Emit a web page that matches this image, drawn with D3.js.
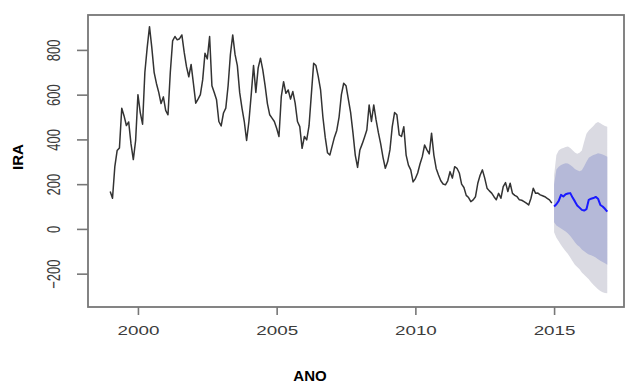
<!DOCTYPE html>
<html>
<head>
<meta charset="utf-8">
<script src="https://cdn.jsdelivr.net/npm/d3@7"></script>
<style>
    body { margin: 0; background: #fff; }
    svg { display: block; font-family: "Liberation Sans", Arial, sans-serif; }
</style>
</head>
<body>
<div id="chart"></div>
<script>
// Monthly IRA series, Jan 1999 .. Dec 2014 (one row per year)
const startYear = 1999;
const iraHistory = [
    167, 137, 278, 350, 362, 539, 505, 462, 478, 380, 310, 395,   // 1999
    600, 520, 468, 700, 810, 904, 810, 700, 650, 610, 560, 590,   // 2000
    530, 510, 700, 840, 860, 845, 850, 867, 790, 725, 680, 735,   // 2001
    650, 562, 580, 600, 666, 785, 760, 860, 640, 610, 577, 480,   // 2002
    460, 518, 540, 640, 780, 867, 780, 730, 610, 540, 480, 395,   // 2003
    480, 600, 730, 610, 720, 763, 711, 640, 560, 510, 495, 480,   // 2004
    450, 413, 591, 658, 606, 621, 580, 614, 562, 480, 457, 360,   // 2005
    413, 398, 460, 600, 740, 730, 681, 621, 500, 410, 340, 330,   // 2006
    370, 410, 440, 500, 600, 651, 640, 580, 520, 430, 330, 275,   // 2007
    353, 380, 410, 442, 554, 480, 554, 487, 430, 380, 320, 271,   // 2008
    300, 353, 457, 520, 510, 420, 413, 457, 330, 285, 264, 210,   // 2009
    225, 250, 290, 323, 375, 353, 335, 428, 330, 270, 241, 215,   // 2010
    201, 197, 215, 256, 227, 278, 271, 250, 200, 185, 150, 140,   // 2011
    122, 130, 144, 204, 240, 264, 227, 182, 170, 160, 144, 130,   // 2012
    159, 137, 189, 207, 167, 204, 159, 150, 144, 130, 128, 122,   // 2013
    115, 107, 137, 182, 159, 160, 152, 148, 144, 137, 130, 115    // 2014
];

// Forecast, Jan 2015 .. Dec 2016
const forecastStart = 2015;
const fcMean = [100, 110, 125, 152, 145, 155, 158, 160, 140, 123, 105, 95,
                85, 82, 88, 130, 135, 138, 143, 135, 107, 100, 90, 77];
const fcHi80 = [200, 265, 278, 286, 290, 294, 292, 286, 278, 268, 262, 258,
                262, 280, 300, 318, 325, 330, 334, 338, 336, 332, 328, 323];
const fcLo80 = [30, 15, 8, 2, -5, -12, -20, -32, -45, -60, -72, -80,
                -92, -100, -108, -114, -118, -122, -128, -136, -142, -148, -154, -160];
const fcHi95 = [240, 330, 350, 358, 362, 366, 368, 362, 352, 342, 336, 340,
                350, 390, 425, 440, 450, 460, 472, 478, 472, 465, 460, 457];
const fcLo95 = [-15, -40, -55, -72, -86, -100, -112, -128, -145, -160, -170, -180,
                -195, -205, -215, -225, -238, -250, -260, -270, -278, -283, -286, -288];

const yTicks = [-200, 0, 200, 400, 600, 800];
const xTicks = [2000, 2005, 2010, 2015];

const W = 625, H = 385;
const plot = { left: 88, right: 624, top: 15, bottom: 307 };

const svg = d3.select("#chart").append("svg")
    .attr("width", W)
    .attr("height", H);

const x = d3.scaleLinear().domain([1998.2, 2017.52]).range([plot.left, plot.right]);
const y = d3.scaleLinear().domain([-349, 956]).range([plot.bottom, plot.top]);

const history = iraHistory.map((v, i) => ({ t: startYear + i / 12, v: v }));
const forecast = fcMean.map((v, i) => ({
    t: forecastStart + i / 12,
    mean: v,
    lo80: fcLo80[i], hi80: fcHi80[i],
    lo95: fcLo95[i], hi95: fcHi95[i]
}));

// prediction bands (95 below, 80 on top)
svg.append("path")
    .datum(forecast)
    .attr("fill", "#dadae2")
    .attr("d", d3.area().x(d => x(d.t)).y0(d => y(d.lo95)).y1(d => y(d.hi95)));

svg.append("path")
    .datum(forecast)
    .attr("fill", "#b5b9d8")
    .attr("d", d3.area().x(d => x(d.t)).y0(d => y(d.lo80)).y1(d => y(d.hi80)));

// observed series
svg.append("path")
    .datum(history)
    .attr("fill", "none")
    .attr("stroke", "#333")
    .attr("stroke-width", 1.5)
    .attr("stroke-linejoin", "round")
    .attr("d", d3.line().x(d => x(d.t)).y(d => y(d.v)));

// point forecast
svg.append("path")
    .datum(forecast)
    .attr("fill", "none")
    .attr("stroke", "#1a1aff")
    .attr("stroke-width", 2)
    .attr("stroke-linejoin", "round")
    .attr("d", d3.line().x(d => x(d.t)).y(d => y(d.mean)));

// axes
const yAxisG = svg.append("g")
    .attr("transform", `translate(${plot.left},0)`)
    .call(d3.axisLeft(y).tickValues(yTicks).tickSize(11).tickFormat(d3.format("d")));

const xAxisG = svg.append("g")
    .attr("transform", `translate(0,${plot.bottom})`)
    .call(d3.axisBottom(x).tickValues(xTicks).tickSize(8).tickFormat(d3.format("d")));

[yAxisG, xAxisG].forEach(g => {
    g.select(".domain").remove();
    g.selectAll(".tick line").attr("stroke", "#777").attr("stroke-width", 1.6);
    g.selectAll(".tick text")
        .attr("fill", "#3c3c3c")
        .style("font-size", "13px");
});

yAxisG.selectAll(".tick text")
    .attr("x", 0)
    .attr("y", 0)
    .attr("dy", "0.35em")
    .attr("text-anchor", "middle")
    .attr("transform", "translate(-34,0) scale(1.4,1) rotate(-90)");

xAxisG.selectAll(".tick text")
    .attr("y", 0)
    .attr("dy", 0)
    .attr("transform", "translate(0,28) scale(1.45,1)");

// frame
svg.append("rect")
    .attr("x", plot.left)
    .attr("y", plot.top)
    .attr("width", plot.right - plot.left)
    .attr("height", plot.bottom - plot.top)
    .attr("fill", "none")
    .attr("stroke", "#777")
    .attr("stroke-width", 1.8);

// axis titles
svg.append("text")
    .attr("transform", "translate(23,157) rotate(-90)")
    .attr("text-anchor", "middle")
    .style("font-size", "15px")
    .style("font-weight", "bold")
    .text("IRA");

svg.append("text")
    .attr("x", 310)
    .attr("y", 381)
    .attr("text-anchor", "middle")
    .style("font-size", "15px")
    .style("font-weight", "bold")
    .text("ANO");
</script>
</body>
</html>
